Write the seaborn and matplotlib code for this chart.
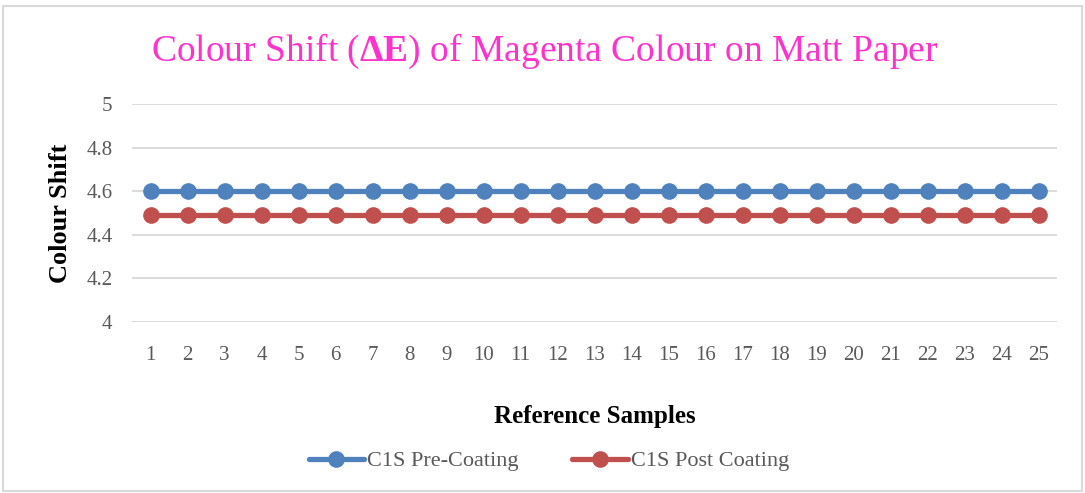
import matplotlib
matplotlib.use("Agg")
import matplotlib.pyplot as plt
import seaborn as sns
import pandas as pd
from matplotlib.patches import Rectangle

samples = list(range(1, 26))
pre_coating = [4.60] * 25
post_coating = [4.49] * 25
series_names = ["C1S Pre-Coating", "C1S Post Coating"]
series_colors = ["#4F81BD", "#C0504D"]
y_ticks = [4, 4.2, 4.4, 4.6, 4.8, 5]
y_tick_labels = ["4", "4.2", "4.4", "4.6", "4.8", "5"]

df = pd.DataFrame({
    "Sample": samples * 2,
    "Shift": pre_coating + post_coating,
    "Series": [series_names[0]] * 25 + [series_names[1]] * 25,
})
df["pos"] = df["Sample"] - 1

sns.set_theme(style="white")
plt.rcParams["font.family"] = ["Liberation Serif", "DejaVu Serif"]
plt.rcParams["mathtext.fontset"] = "custom"
plt.rcParams["mathtext.rm"] = "Liberation Serif"
plt.rcParams["mathtext.bf"] = "Liberation Serif:bold"

fig = plt.figure(figsize=(10.85, 4.93), dpi=100)
W, H = 1085, 493
ax = fig.add_axes([132 / W, 1 - 322 / H, (1057 - 132) / W, (322 - 104) / H])

sns.lineplot(data=df, x="pos", y="Shift", hue="Series", palette=series_colors,
             hue_order=series_names, marker="o", markersize=12, linewidth=3.8,
             markeredgewidth=0, ax=ax, legend=True, zorder=3)

ax.set_xlim(-0.5, 24.5)
ax.set_ylim(4, 5)
ax.set_yticks(y_ticks)
ax.set_yticklabels(y_tick_labels)
ax.set_xticks(range(len(samples)))
ax.set_xticklabels([str(s) for s in samples])
ax.tick_params(axis="both", length=0, labelsize=15, labelcolor="#595959")
ax.tick_params(axis="x", pad=17)
ax.tick_params(axis="y", pad=14)
ax.grid(axis="y", color="#D9D9D9", linewidth=1.3, zorder=0)
ax.grid(axis="x", visible=False)
for s in ax.spines.values():
    s.set_visible(False)

ax.set_xlabel("Reference Samples", fontsize=18, fontweight="bold", color="black", labelpad=29)
ax.set_ylabel("Colour Shift", fontsize=19, fontweight="bold", color="black", labelpad=10)

fig.text(545 / W, 1 - 51 / H,
         r"Colour Shift ($\mathbf{\Delta E}$) of Magenta Colour on Matt Paper",
         ha="center", va="center", fontsize=27, color="#FF33CC")

handles, labels = ax.get_legend_handles_labels()
leg = ax.legend(handles, labels, loc="center", bbox_to_anchor=(549 / W, 1 - 461 / H),
                bbox_transform=fig.transFigure, ncol=2, frameon=False,
                fontsize=16, handlelength=2.5, columnspacing=2.4, handletextpad=0.15)
for t in leg.get_texts():
    t.set_color("#595959")

fig.patches.append(Rectangle((3 / W, 2 / H), 1 - 6 / W, 1 - 8 / H, transform=fig.transFigure,
                             fill=False, edgecolor="#D9D9D9", linewidth=1.5))

fig.savefig("out.png", dpi=100)
